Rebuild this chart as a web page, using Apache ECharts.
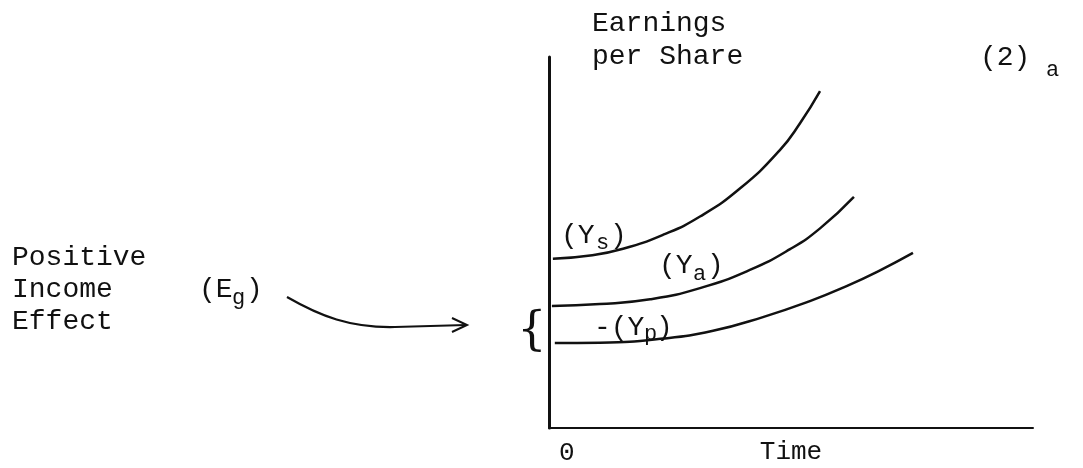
<!DOCTYPE html>
<html>
<head>
<meta charset="utf-8">
<script src="https://cdn.jsdelivr.net/npm/echarts@6/dist/echarts.min.js"></script>
<style>
html,body{margin:0;padding:0;background:#fff;}
#c{width:1083px;height:468px;}
</style>
</head>
<body>
<div id="c"></div>
<script>
// Data (x: time 0..100, y: earnings per share 0..100)
const ysX = [0.8, 8.5, 15.3, 23.6, 31.2, 39.5, 47.7, 51.9, 56.0];
const ysY = [45.6, 46.5, 48.3, 52.1, 57.0, 64.6, 74.9, 82.2, 90.8];
const yaX = [0.6, 10.5, 20.9, 31.2, 41.5, 49.8, 56.0, 63.0];
const yaY = [32.9, 33.4, 34.7, 37.7, 42.6, 48.2, 53.8, 62.3];
const ypX = [1.2, 10.5, 23.6, 33.9, 44.2, 53.9, 61.6, 68.4, 75.2];
const ypY = [22.9, 23.0, 24.1, 26.2, 29.9, 34.2, 38.3, 42.5, 47.2];
const seriesNames = ['Ys', 'Ya', 'Yp'];
const xTickLabels = ['0'];

const FONT = '"Liberation Mono", "DejaVu Sans Mono", monospace';
const INK = '#111';
const pair = (xs, ys) => xs.map((x, i) => [x, ys[i]]);

function txt(s, x, y, size, align) {
  return {
    type: 'text', x: x, y: y, silent: true,
    style: { text: s, fontSize: size, fontFamily: FONT, fill: INK,
             textAlign: align || 'left', textVerticalAlign: 'middle' }
  };
}

const chart = echarts.init(document.getElementById('c'));
const lineStyle = { color: INK, width: 2.5 };
const lineSeries = (name, xs, ys) => ({
  name: name, type: 'line', data: pair(xs, ys), smooth: true,
  showSymbol: false, lineStyle: lineStyle
});
chart.setOption({
  backgroundColor: '#fff',
  animation: false,
  grid: { left: 549, top: 57, width: 484, height: 371, outerBoundsMode: 'none', containLabel: false },
  xAxis: {
    type: 'value', min: 0, max: 100, interval: 100,
    axisLine: { show: true, lineStyle: { color: INK, width: 2 } },
    axisTick: { show: false }, splitLine: { show: false },
    axisLabel: {
      formatter: v => (v === 0 ? xTickLabels[0] : ''),
      align: 'left', margin: 12, padding: [0, 0, 0, 10],
      fontSize: 26, fontFamily: FONT, color: INK
    },
    name: 'Time', nameLocation: 'middle', nameGap: 24, nameMoveOverlap: false,
    nameTextStyle: { fontSize: 26, fontFamily: FONT, color: INK, verticalAlign: 'middle' }
  },
  yAxis: {
    type: 'value', min: 0, max: 100,
    axisLine: { show: true, lineStyle: { color: INK, width: 3 } },
    axisTick: { show: false }, splitLine: { show: false },
    axisLabel: { show: false },
    name: 'Earnings\nper Share', nameLocation: 'end', nameGap: 16.5, nameMoveOverlap: false,
    nameTextStyle: { fontSize: 28, fontFamily: FONT, color: INK, align: 'left',
                     verticalAlign: 'middle', lineHeight: 33, padding: [0, 0, 0, 43] }
  },
  series: [
    lineSeries(seriesNames[0], ysX, ysY),
    lineSeries(seriesNames[1], yaX, yaY),
    lineSeries(seriesNames[2], ypX, ypY)
  ],
  graphic: [
    // panel label
    txt('(2)', 980, 58, 28), txt('a', 1046, 70, 22),
    // left annotation
    txt('Positive', 12, 258, 28), txt('Income', 12, 290, 28), txt('Effect', 12, 322, 28),
    txt('(E', 199, 290, 28), txt('g', 232, 298, 22), txt(')', 246, 290, 28),
    // curve labels
    txt('(Y', 561, 236, 28), txt('s', 596, 243, 22), txt(')', 610, 236, 28),
    txt('(Y', 659, 266, 28), txt('a', 693, 274, 22), txt(')', 707, 266, 28),
    txt('-(Y', 594, 328, 28), txt('p', 644, 334, 22), txt(')', 656, 328, 28),
    // arrow
    { type: 'bezierCurve', silent: true,
      shape: { x1: 287, y1: 297, cpx1: 320, cpy1: 316, cpx2: 350, cpy2: 328, x2: 395, y2: 327 },
      style: { stroke: INK, lineWidth: 2.2, fill: null } },
    { type: 'line', silent: true, shape: { x1: 395, y1: 327, x2: 466, y2: 325 },
      style: { stroke: INK, lineWidth: 2 } },
    { type: 'polyline', silent: true, shape: { points: [[452, 318], [467, 325], [452, 332]] },
      style: { stroke: INK, lineWidth: 2, fill: null } },
    // brace
    { type: 'text', x: 532, y: 332, silent: true,
      style: { text: '{', fontSize: 46, fontFamily: '"DejaVu Serif", serif', fill: INK,
               textAlign: 'center', textVerticalAlign: 'middle' } }
  ]
});
</script>
</body>
</html>
